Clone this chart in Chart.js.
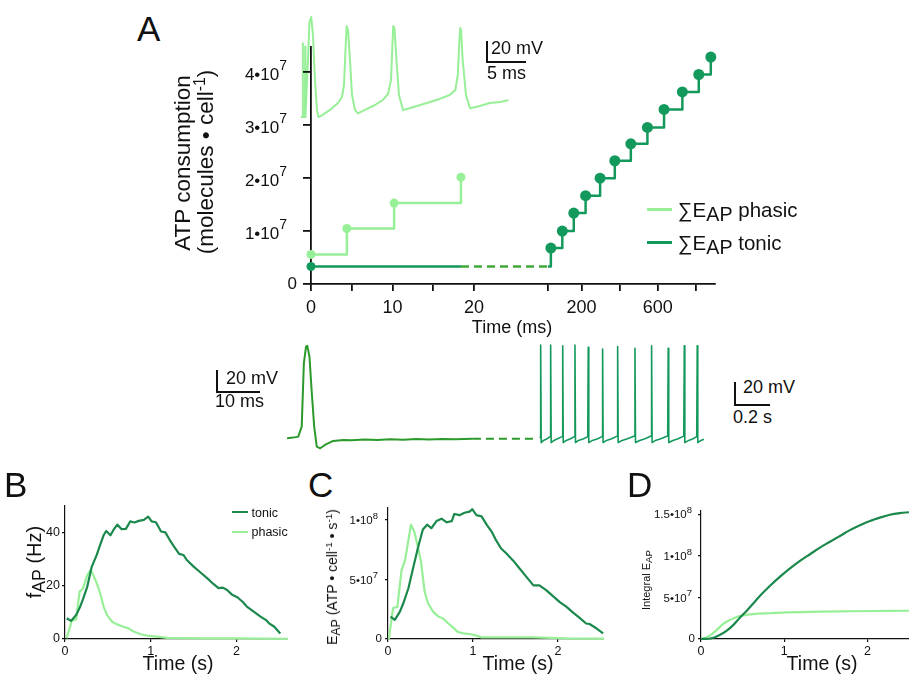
<!DOCTYPE html>
<html><head><meta charset="utf-8">
<script src="https://cdn.jsdelivr.net/npm/chart.js"></script>
<style>
html,body{margin:0;padding:0;background:#fff}
#stage{position:relative;width:909px;height:675px;overflow:hidden;background:#fff;font-family:"Liberation Sans",Arial,Helvetica,sans-serif;color:#111}
#stage canvas{position:absolute}
.t{position:absolute;white-space:nowrap;line-height:1}
.t sub{font-size:88%;vertical-align:-0.22em;line-height:0}
.t sup{font-size:70%;vertical-align:0.5em;line-height:0}
.t.lg sub{font-size:96%;vertical-align:-0.2em}
.bar{position:absolute;background:#111}
</style></head><body><div id="stage"></div>
<script>
// ================= DATA =================
// Panel A – cumulative ATP consumption (molecules · cell^-1) vs time (ms)
const A_phasicT = [0, 4.4, 10.2, 18.4];
const A_phasicE = [5.6e6, 1.05e7, 1.53e7, 2.02e7];
const A_tonicStartT = [0, 18.4];
const A_tonicStartE = [3.3e6, 3.3e6];
const A_tonicT = [40, 100, 160, 222, 298, 375, 459, 546, 633, 729, 815, 878];
const A_tonicE = [0.68e7, 1.0e7, 1.34e7, 1.67e7, 2.0e7, 2.33e7, 2.65e7, 2.96e7, 3.30e7, 3.63e7, 3.96e7, 4.29e7];
const A_yTicks = [0, 1e7, 2e7, 3e7, 4e7];
const A_xTicksLeft = [0, 5, 10, 15, 20];
const A_xLabelsLeft = ['0', '', '10', '', '20'];
const A_xTicksRight = [25, 200, 400, 600, 800];
const A_xLabelsRight = ['', '200', '', '600', ''];
// Panel A inset – phasic membrane potential (mV) vs time (ms)
const insetT = [-1.2, -1.0, -0.97, -0.94, -0.7, -0.67, -0.64, -0.33, -0.15, 0.07, 0.28, 0.53, 0.77, 0.95, 1.26, 2.36, 3.34, 3.83, 4.08, 4.26, 4.4, 4.57, 4.81, 5.06, 5.42, 5.79, 6.65, 7.87, 8.85, 9.46, 9.83, 10.0, 10.1, 10.25, 10.5, 10.8, 11.3, 12.2, 13.4, 14.6, 15.8, 17.0, 17.7, 18.0, 18.2, 18.3, 18.4, 18.6, 19.0, 19.5, 20.7, 21.9, 23.2, 24.2];
const insetV = [-70, -70, -3, -70, -70, -6, -70, -18, 16.4, 20.9, 4.5, -36.4, -63.6, -70, -69, -63.6, -57.3, -51.8, -40.9, -9.1, 12.7, 9.1, -18.2, -50, -63.6, -66.8, -63.6, -59.1, -54.5, -49.1, -36.4, -4.5, 12.7, 10.9, -18.2, -50, -63.6, -61.8, -59.1, -56.4, -53.6, -50, -45.5, -31.8, 0, 10.9, 9.1, -18.2, -50, -62.1, -60, -57.3, -56.4, -54.5];
// Panel A bottom – tonic recording: first AP (ms, mV)
const apT = [-3, -1.6, -0.4, 0.4, 0.9, 1.4, 1.7, 2.2, 2.7, 3.3, 3.9, 4.7, 5.8, 7.7, 10.1, 12, 15, 18, 21, 24, 27, 30, 33, 36, 40.2];
const apV = [-68, -67.4, -66.5, -57.3, 1.4, 16.8, 17.5, 7.6, -23.3, -57.3, -75.8, -77.3, -74.2, -70.5, -69.6, -69.8, -69.2, -69.5, -69.0, -69.3, -68.8, -69.1, -68.7, -68.9, -68.5];
const apDashT = [40.2, 55];
const apDashV = [-68.5, -68.5];
// Panel A bottom – tonic spike train (s, mV)
const trainT = [0, 0.002, 0.004, 0.007, 0.02, 0.04, 0.058, 0.061, 0.064, 0.08, 0.1, 0.127, 0.13, 0.133, 0.15, 0.175, 0.197, 0.2, 0.203, 0.22, 0.25, 0.273, 0.276, 0.279, 0.3, 0.33, 0.355, 0.358, 0.361, 0.38, 0.41, 0.441, 0.444, 0.447, 0.47, 0.5, 0.54, 0.543, 0.546, 0.57, 0.6, 0.635, 0.638, 0.641, 0.66, 0.69, 0.73, 0.733, 0.736, 0.76, 0.79, 0.822, 0.825, 0.828, 0.85, 0.875, 0.896, 0.899, 0.902, 0.92, 0.937];
const trainV = [-68, -67, 18.4, -72, -70, -68.5, -66.5, 18.4, -72, -70, -68.5, -66.5, 17.5, -72, -70, -68.5, -66.5, 18.4, -72, -70, -68.5, -66.5, 16.3, -72, -70, -68.5, -66.5, 14.7, -72, -70, -68.5, -66, 16.8, -72, -70, -68.5, -66, 15.3, -72, -70, -68.5, -66, 17.5, -72, -70, -68.5, -66, 15.3, -72, -70, -68.5, -66, 17.5, -72, -70, -68.5, -66.5, 17.7, -72, -70, -69];
// Panel B – AP frequency (Hz) vs time (s)
const B_tonicT = [0.02, 0.07, 0.13, 0.175, 0.21, 0.26, 0.31, 0.37, 0.41, 0.45, 0.48, 0.53, 0.565, 0.61, 0.66, 0.71, 0.76, 0.81, 0.86, 0.92, 0.97, 1.01, 1.06, 1.12, 1.17, 1.22, 1.27, 1.33, 1.38, 1.42, 1.50, 1.58, 1.66, 1.73, 1.79, 1.84, 1.89, 1.95, 2.01, 2.07, 2.12, 2.20, 2.28, 2.34, 2.38, 2.44, 2.51];
const B_tonicF = [7.8, 6.8, 9, 12, 15, 19.7, 27, 31.6, 35.4, 39, 40.6, 39, 41, 43, 41.3, 41.4, 44.2, 43.8, 44.4, 44.8, 46, 44.2, 43.9, 40.4, 40.1, 37.3, 34.8, 32, 31.6, 29.7, 27.2, 25, 22.8, 20.7, 19.1, 19.3, 18.4, 16.6, 15.7, 14, 12.2, 10.3, 8.4, 7.2, 5.9, 4.6, 2.1];
const B_phasicT = [0.02, 0.08, 0.13, 0.17, 0.21, 0.26, 0.30, 0.33, 0.37, 0.41, 0.45, 0.49, 0.55, 0.60, 0.68, 0.74, 0.80, 0.88, 0.96, 1.07, 1.19, 1.58, 1.97, 2.61];
const B_phasicF = [0.3, 7, 7.4, 17.8, 19, 24, 26, 24, 21, 17.2, 12.2, 9, 6.5, 5.6, 4.6, 4, 2.8, 1.8, 1.3, 0.9, 0.4, 0.25, 0.25, 0.1];
const B_yTicks = [0, 20, 40];
const BCD_xTicks = [0, 1, 2];
// Panel C – E_AP (ATP · cell^-1 · s^-1) vs time (s)
const C_tonicT = [0.03, 0.08, 0.14, 0.18, 0.24, 0.29, 0.35, 0.41, 0.46, 0.51, 0.57, 0.63, 0.69, 0.75, 0.78, 0.84, 0.90, 0.96, 0.99, 1.04, 1.10, 1.16, 1.22, 1.27, 1.33, 1.39, 1.47, 1.55, 1.63, 1.71, 1.78, 1.86, 1.94, 2.02, 2.10, 2.18, 2.25, 2.33, 2.37, 2.45, 2.53];
const C_tonicE = [1.88e7, 1.6e7, 2.3e7, 3.0e7, 4.26e7, 5.8e7, 7.6e7, 9.2e7, 9.6e7, 9.3e7, 9.9e7, 1.01e8, 9.8e7, 9.9e7, 1.05e8, 1.04e8, 1.06e8, 1.07e8, 1.09e8, 1.04e8, 1.03e8, 9.6e7, 9.0e7, 8.3e7, 7.6e7, 7.2e7, 6.6e7, 5.9e7, 5.2e7, 4.5e7, 4.5e7, 4.1e7, 3.6e7, 3.1e7, 2.7e7, 2.2e7, 1.8e7, 1.3e7, 1.26e7, 9e6, 4.8e6];
const C_phasicT = [0.01, 0.06, 0.11, 0.16, 0.20, 0.24, 0.27, 0.31, 0.35, 0.39, 0.43, 0.47, 0.53, 0.59, 0.65, 0.71, 0.76, 0.82, 0.88, 0.96, 1.04, 1.10, 1.31, 1.71, 2.10, 2.54];
const C_phasicE = [0, 2.6e7, 2.7e7, 5.8e7, 6.6e7, 8.3e7, 9.6e7, 9.0e7, 7.8e7, 6.4e7, 4.0e7, 3.0e7, 2.3e7, 1.9e7, 1.7e7, 1.3e7, 1.0e7, 6e6, 4.8e6, 4.2e6, 2.8e6, 1.4e6, 1.4e6, 1.4e6, 5e5, 3e5];
const C_yTicks = [0, 5e7, 1e8];
// Panel D – integral of E_AP vs time (s)
const D_tonicT = [0, 0.09, 0.15, 0.23, 0.31, 0.39, 0.47, 0.55, 0.63, 0.71, 0.83, 0.95, 1.07, 1.19, 1.31, 1.43, 1.55, 1.67, 1.79, 1.91, 2.03, 2.15, 2.27, 2.39, 2.50];
const D_tonicI = [0, 3e5, 1.5e6, 5e6, 1.0e7, 1.7e7, 2.6e7, 3.4e7, 4.3e7, 5.2e7, 6.4e7, 7.5e7, 8.5e7, 9.4e7, 1.02e8, 1.10e8, 1.17e8, 1.24e8, 1.31e8, 1.37e8, 1.42e8, 1.46e8, 1.495e8, 1.515e8, 1.525e8];
const D_phasicT = [0, 0.09, 0.19, 0.27, 0.35, 0.43, 0.51, 0.63, 0.83, 1.03, 1.43, 1.83, 2.50];
const D_phasicI = [0, 3.2e6, 1.1e7, 1.85e7, 2.3e7, 2.65e7, 2.85e7, 3.0e7, 3.1e7, 3.2e7, 3.3e7, 3.34e7, 3.4e7];
const D_yTicks = [0, 5e7, 1e8, 1.5e8];

// ================= STYLE =================
const FONT = '"Liberation Sans", Arial, Helvetica, sans-serif';
const K = '#111';
const C_PH = '#97ef97', C_TO = '#14995c', C_TO2 = '#1b884c', C_AP = '#2b9a2b', C_DASH = '#41a83a';
const stage = document.getElementById('stage');

function sciParts(v) {
  if (v === 0) return ['0', ''];
  const e = Math.floor(Math.log10(v) + 1e-9);
  const m = +(v / Math.pow(10, e)).toFixed(2);
  return [m + '\u202210', String(e)];
}
const supTicks = {
  id: 'supTicks',
  afterDraw(chart, args, o) {
    if (!o || !o.ticks) return;
    const s = chart.scales.y, ctx = chart.ctx;
    ctx.save(); ctx.fillStyle = K; ctx.textBaseline = 'middle'; ctx.textAlign = 'right';
    o.ticks.forEach(v => {
      const [b, e] = sciParts(v);
      const y = s.getPixelForValue(v);
      if (!e) { ctx.font = o.size + 'px ' + FONT; ctx.fillText(b, s.right - o.gap0, y); return; }
      const xr = s.right - o.gapSup;
      ctx.font = o.supSize + 'px ' + FONT; const w = ctx.measureText(e).width;
      ctx.fillText(e, xr, y + o.drop - o.rise);
      ctx.font = o.size + 'px ' + FONT; ctx.fillText(b, xr - w, y + o.drop);
    });
    ctx.restore();
  }
};
function makeCanvas(l, t, w, h) {
  const c = document.createElement('canvas');
  c.width = w; c.height = h;
  c.style.left = l + 'px'; c.style.top = t + 'px'; c.style.width = w + 'px'; c.style.height = h + 'px';
  stage.appendChild(c); return c;
}
const zip = (X, Y) => X.map((x, i) => ({x, y: Y[i]}));
function ds(data, color, w, dash, extra) {
  return Object.assign({data, borderColor: color, backgroundColor: color, borderWidth: w, borderDash: dash || [],
    pointRadius: 0, pointBorderWidth: 0, fill: false, tension: 0, clip: false, borderJoinStyle: 'round'}, extra || {});
}
const hidden = (min, max) => ({type: 'linear', display: false, min, max});
function xAxis(o) {
  return {type: 'linear', position: 'bottom', min: o.min, max: o.max,
    afterBuildTicks: s => { s.ticks = o.ticks.map(v => ({value: v})); },
    afterFit: s => { s.height = o.H; s.paddingLeft = 0; s.paddingRight = 0; },
    ticks: {display: true, autoSkip: false, maxRotation: 0, font: {family: FONT, size: o.size}, color: K, padding: o.pad,
      callback: (v, i) => o.labels[i]},
    grid: {display: true, drawOnChartArea: false, drawTicks: true, tickLength: o.tl, color: K, lineWidth: o.lw},
    border: {display: true, color: K, width: o.lw}};
}
function yAxis(o) {
  return {type: 'linear', position: 'left', min: o.min, max: o.max,
    afterBuildTicks: s => { s.ticks = o.ticks.map(v => ({value: v})); },
    afterFit: s => { s.width = o.W; s.paddingTop = 0; s.paddingBottom = 0; },
    ticks: {display: !!o.labels, autoSkip: false, font: {family: FONT, size: o.size || 12}, color: K, padding: o.pad || 2,
      callback: (v, i) => o.labels ? o.labels[i] : ''},
    grid: {display: true, drawOnChartArea: false, drawTicks: true, tickLength: o.tl, color: K, lineWidth: o.lw},
    border: {display: true, color: K, width: o.lw}};
}
function mk(l, t, w, h, datasets, scales, pad, sup) {
  return new Chart(makeCanvas(l, t, w, h), {
    type: 'line', data: {datasets},
    options: {responsive: false, animation: false, events: [], devicePixelRatio: 1,
      layout: {padding: pad || 0}, scales,
      plugins: {legend: {display: false}, tooltip: {enabled: false}, supTicks: sup || {}}},
    plugins: [supTicks]});
}

// ================= PANEL A =================
const A_yMax = 4.48e7;
// inset phasic voltage trace
mk(298, 10, 217, 115, [ds(zip(insetT, insetV), C_PH, 2)], {x: hidden(-1.55, 25), y: hidden(-77.3, 27.3)});
// bottom tonic recording
mk(287, 335, 250, 120, [ds(zip(apT, apV), C_AP, 2), ds(zip(apDashT, apDashV), C_AP, 2, [8, 5])],
   {x: hidden(-3.02, 55.1), y: hidden(-83.5, 27.6)});
mk(537, 335, 183, 120, [ds(zip(trainT, trainV), C_TO, 1.6)], {x: hidden(-0.017, 1.029), y: hidden(-83.5, 27.6)});
// axis break
mk(474, 40, 74, 294,
   [ds([{x: 20, y: A_tonicStartE[1]}, {x: 25, y: A_tonicStartE[1]}], C_DASH, 2.5, [8, 5])],
   {x: {type: 'linear', min: 20, max: 25,
        afterFit: s => { s.height = 50; s.paddingLeft = 0; s.paddingRight = 0; },
        ticks: {display: false}, grid: {display: true, drawOnChartArea: false, drawTicks: false},
        border: {display: true, color: K, width: 1.8, dash: [6, 5]}},
    y: hidden(0, A_yMax)}, {top: 7});
// right segment (tonic train)
mk(538, 40, 189, 294,
   [ds([{x: A_xTicksRight[0], y: A_tonicStartE[1]}].concat(zip(A_tonicT, A_tonicE)), C_TO, 2.5, null,
       {stepped: true, pointRadius: c => c.dataIndex === 0 ? 0 : 5.5, pointBackgroundColor: C_TO})],
   {x: xAxis({min: 25, max: 900, ticks: A_xTicksRight, labels: A_xLabelsRight, size: 18, tl: 7, pad: 6.5, H: 50, lw: 1.8}),
    y: hidden(0, A_yMax)}, {top: 7, left: 10, right: 12});
// left segment (0–20 ms) with y axis
mk(211, 40, 283, 294,
   [ds(zip(A_phasicT, A_phasicE), C_PH, 2.5, null, {stepped: true, pointRadius: 4.5, pointBackgroundColor: C_PH}),
    ds(zip(A_tonicStartT, A_tonicStartE), C_TO, 2.5, null, {pointRadius: [4.5, 0], pointBackgroundColor: C_TO}),
    ds([{x: A_tonicStartT[1], y: A_tonicStartE[1]}, {x: 20, y: A_tonicStartE[1]}], C_DASH, 2.5, [8, 5])],
   {x: xAxis({min: 0, max: 20, ticks: A_xTicksLeft, labels: A_xLabelsLeft, size: 18, tl: 7, pad: 6.5, H: 50, lw: 1.8}),
    y: yAxis({min: 0, max: A_yMax, ticks: A_yTicks, W: 100, tl: 8, lw: 1.8})},
   {top: 7, right: 20},
   {ticks: A_yTicks, size: 17, supSize: 14, rise: 9, drop: 3, gap0: 14, gapSup: 24});

// ================= PANEL B =================
mk(15, 500, 273, 175,
   [ds(zip(B_tonicT, B_tonicF), C_TO2, 2.2), ds(zip(B_phasicT, B_phasicF), C_PH, 2.2)],
   {x: xAxis({min: 0, max: 2.6, ticks: BCD_xTicks, labels: ['0', '1', '2'], size: 12.5, tl: 3, pad: 2, H: 36, lw: 1.2}),
    y: yAxis({min: 0, max: 50, ticks: B_yTicks, labels: ['0', '20', '40'], size: 12.5, pad: 2, W: 50, tl: 3, lw: 1.2})},
   {top: 6});
// ================= PANEL C =================
mk(338, 500, 266, 175,
   [ds(zip(C_tonicT, C_tonicE), C_TO2, 2.2), ds(zip(C_phasicT, C_phasicE), C_PH, 2.2)],
   {x: xAxis({min: 0, max: 2.54, ticks: BCD_xTicks, labels: ['0', '1', '2'], size: 12.5, tl: 3, pad: 2, H: 36, lw: 1.2}),
    y: yAxis({min: 0, max: 1.1e8, ticks: C_yTicks, W: 50, tl: 3, lw: 1.2})},
   {top: 8},
   {ticks: C_yTicks, size: 11.5, supSize: 9.5, rise: 5, drop: 1, gap0: 6, gapSup: 10});
// ================= PANEL D =================
mk(651, 500, 258, 175,
   [ds(zip(D_tonicT, D_tonicI), C_TO2, 2.2, null, {cubicInterpolationMode: 'monotone'}),
    ds(zip(D_phasicT, D_phasicI), C_PH, 2.2, null, {cubicInterpolationMode: 'monotone'})],
   {x: xAxis({min: 0, max: 2.5, ticks: BCD_xTicks, labels: ['0', '1', '2'], size: 12.5, tl: 3, pad: 2, H: 36, lw: 1.2}),
    y: yAxis({min: 0, max: 1.54e8, ticks: D_yTicks, W: 50, tl: 3, lw: 1.2})},
   {top: 11},
   {ticks: D_yTicks, size: 11.5, supSize: 9.5, rise: 5, drop: 1, gap0: 6, gapSup: 9});

// ================= TEXT & ANNOTATIONS =================
function txt(html, x, y, size, align, rot, cls) {
  const d = document.createElement('div'); d.className = 't' + (cls ? ' ' + cls : ''); d.innerHTML = html;
  d.style.left = x + 'px'; d.style.top = y + 'px'; d.style.fontSize = size + 'px';
  const tx = align === 'center' ? '-50%' : align === 'right' ? '-100%' : '0';
  d.style.transform = rot ? 'translate(-50%,-50%) rotate(-90deg)' : 'translate(' + tx + ',-50%)';
  stage.appendChild(d);
}
function bar(l, t, w, h, color) {
  const d = document.createElement('div'); d.className = 'bar';
  d.style.cssText += 'left:' + l + 'px;top:' + t + 'px;width:' + w + 'px;height:' + h + 'px;' + (color ? 'background:' + color : '');
  stage.appendChild(d);
}
// panel letters
txt('A', 137, 27.5, 35); txt('B', 4, 484, 35); txt('C', 308, 483.5, 35); txt('D', 627, 484, 35);
// panel A labels
txt('ATP consumption', 183, 163, 22.5, 'center', true);
txt('(molecules \u2022 cell<sup>-1</sup>)', 206, 161.5, 22.5, 'center', true);
txt('Time (ms)', 512, 327, 18, 'center');
bar(647, 208.2, 25, 2.4, C_PH); txt('\u2211E<sub>AP</sub> phasic', 678, 210, 20.5, 'left', false, 'lg');
bar(647, 241.2, 25, 2.4, C_TO); txt('\u2211E<sub>AP</sub> tonic', 678, 243, 20.5, 'left', false, 'lg');
// scale bars
bar(486, 41, 2, 21); bar(486, 60.5, 40, 2);
txt('20 mV', 491, 47.5, 18); txt('5 ms', 487, 73, 18);
bar(216, 370, 2, 22); bar(216, 390.5, 44, 2);
txt('20 mV', 226, 378, 18); txt('10 ms', 215, 401, 18);
bar(734, 381.5, 2, 24); bar(734, 403.5, 36, 2);
txt('20 mV', 743, 386.5, 18); txt('0.2 s', 733, 417, 18);
// panel B labels
txt('f<sub>AP</sub> (Hz)', 33.5, 562, 20, 'center', true);
txt('Time (s)', 178, 663.5, 19.5, 'center');
bar(232, 511.2, 16, 2.3, C_TO2); txt('tonic', 251.5, 512.5, 12.5);
bar(232, 530.7, 16, 2.3, C_PH); txt('phasic', 251.5, 532, 12.5);
// panel C labels
txt('E<sub>AP</sub> (ATP \u2022 cell<sup>-1</sup> \u2022 s<sup>-1</sup>)', 331.5, 577, 14, 'center', true);
txt('Time (s)', 518, 663.5, 19.5, 'center');
// panel D labels
txt('Integral E<sub>AP</sub>', 646, 580, 11, 'center', true);
txt('Time (s)', 822, 663.5, 19.5, 'center');
</script></body></html>
